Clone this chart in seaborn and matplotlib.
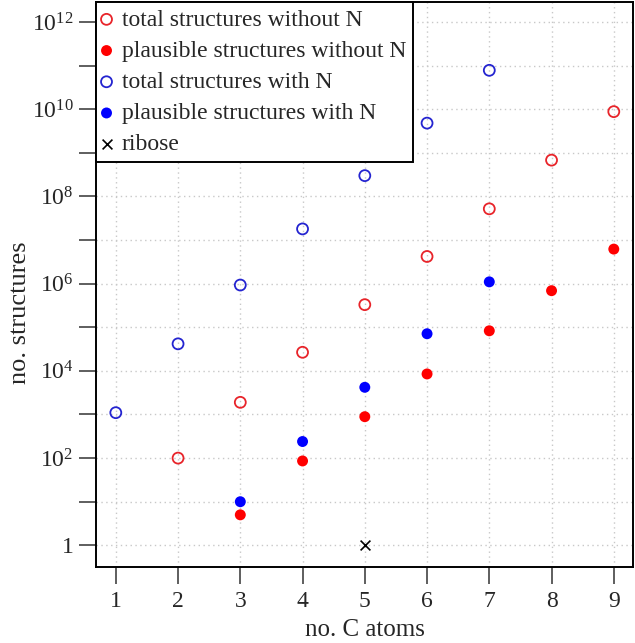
import numpy as np
import pandas as pd
import matplotlib
matplotlib.use("Agg")
import matplotlib.pyplot as plt
import matplotlib.ticker as mticker
import seaborn as sns

# ---- data ----
x_total_noN = [2, 3, 4, 5, 6, 7, 8, 9]
y_total_noN = [100, 1900, 26700, 3.3e5, 4.2e6, 5.2e7, 6.8e8, 8.8e9]
x_plaus_noN = [3, 4, 5, 6, 7, 8, 9]
y_plaus_noN = [5, 86, 890, 8500, 8.3e4, 6.9e5, 6.2e6]
x_total_N = [1, 2, 3, 4, 5, 6, 7]
y_total_N = [1100, 41700, 9.3e5, 1.8e7, 3.0e8, 4.8e9, 7.8e10]
x_plaus_N = [3, 4, 5, 6, 7]
y_plaus_N = [10, 240, 4200, 7.1e4, 1.1e6]
x_ribose = [5]
y_ribose = [1]

labels = ["total structures without N", "plausible structures without N",
          "total structures with N", "plausible structures with N", "ribose"]
x_ticks = [1, 2, 3, 4, 5, 6, 7, 8, 9]
y_major_exp = [0, 2, 4, 6, 8, 10, 12]

sns.set_theme(style="white")
plt.rcParams['font.family'] = ['Liberation Serif', 'DejaVu Serif']
plt.rcParams['mathtext.fontset'] = 'custom'
plt.rcParams['mathtext.rm'] = 'Liberation Serif'
plt.rcParams['mathtext.it'] = 'Liberation Serif:italic'

fig = plt.figure(figsize=(6.35, 6.43), dpi=100)
ax = fig.add_axes([0.151, 0.118, 0.846, 0.879])

s = 62
sns.scatterplot(x=x_total_noN, y=y_total_noN, ax=ax, marker='o', s=s,
                facecolors='none', edgecolor='#e8242a', linewidth=1.3,
                label=labels[0], zorder=3)
sns.scatterplot(x=x_plaus_noN, y=y_plaus_noN, ax=ax, marker='o', s=s,
                color='#ff0000', edgecolor='none', label=labels[1], zorder=3)
sns.scatterplot(x=x_total_N, y=y_total_N, ax=ax, marker='o', s=s,
                facecolors='none', edgecolor='#2424d0', linewidth=1.3,
                label=labels[2], zorder=3)
sns.scatterplot(x=x_plaus_N, y=y_plaus_N, ax=ax, marker='o', s=s,
                color='#0000ff', edgecolor='none', label=labels[3], zorder=3)
sns.scatterplot(x=x_ribose, y=y_ribose, ax=ax, marker='x', s=50,
                color='black', linewidth=1.2, label=labels[4], zorder=3)

ax.set_yscale('log')
ax.set_ylim(10 ** -0.5, 10 ** 12.46)
ax.set_xlim(0.68, 9.31)

ax.set_xticks(x_ticks)
ax.set_xticklabels([str(v) for v in x_ticks])
ax.yaxis.set_major_locator(mticker.FixedLocator([10.0 ** e for e in y_major_exp]))
ax.yaxis.set_minor_locator(mticker.FixedLocator([10.0 ** e for e in range(-1, 14, 2)]))
ax.set_yticklabels(['1' if e == 0 else r'$10^{%d}$' % e for e in y_major_exp])
ax.yaxis.set_minor_formatter(mticker.NullFormatter())

ax.tick_params(axis='both', which='both', direction='out', length=12, width=1.1,
               color='#333333', labelsize=17, left=True, bottom=True)
ax.tick_params(axis='x', pad=5)
ax.tick_params(axis='y', pad=4)

ax.grid(True, which='both', color='#c8c8c8', linestyle=(0, (1, 2.5)), linewidth=1)
ax.set_axisbelow(True)

for sp in ax.spines.values():
    sp.set_color('black')
    sp.set_linewidth(1.4)

ax.set_xlabel('no. C atoms', fontsize=18, labelpad=5)
ax.set_ylabel('no. structures', fontsize=19, labelpad=1)
ax.yaxis.label.set_y(0.45)

leg = ax.legend(loc='upper left', fontsize=17, frameon=True, fancybox=False,
                borderaxespad=0, handletextpad=0.5, handlelength=0.3,
                borderpad=0.3, labelspacing=0.41, framealpha=1)
leg.get_frame().set_edgecolor('black')
leg.get_frame().set_linewidth(1.4)

fig.savefig('out.png', dpi=100)
